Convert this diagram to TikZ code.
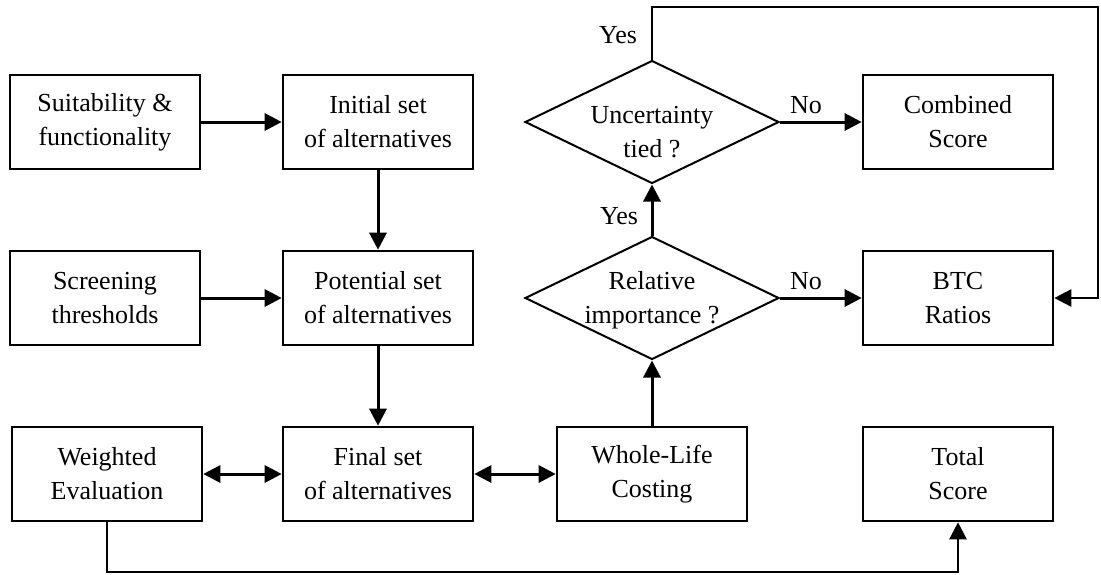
\documentclass[tikz,border=0pt]{standalone}
\usepackage{fontspec}
\setmainfont{Liberation Serif}
\usetikzlibrary{arrows.meta,shapes.geometric}
\begin{document}
\begin{tikzpicture}[x=1pt,y=-1pt,
  txtfont/.style={font=\fontsize{26}{34}\selectfont},
  box/.style={draw,line width=2.6pt,minimum width=190pt,minimum height=94pt,
              inner sep=0pt,align=center,txtfont},
  dia/.style={draw,diamond,line width=2pt,minimum width=254pt,minimum height=123pt,
              inner sep=0pt},
  dtext/.style={align=center,inner sep=0pt,txtfont},
  lbl/.style={inner sep=0pt,txtfont},
  conn/.style={line width=3pt,-{Triangle[length=17pt,width=17pt]}},
  both/.style={line width=3pt,{Triangle[length=17pt,width=17pt]}-{Triangle[length=17pt,width=17pt]}},
  loop/.style={line width=2.6pt},
]
\useasboundingbox (0,0) rectangle (1101,574);

% left column: inputs
\node[box] (suit) at (105,122) {Suitability \&\\functionality};
\node[box] (scr)  at (105,298) {Screening\\thresholds};
\node[box] (wei)  at (107,474) {Weighted\\Evaluation};

% sets of alternatives
\node[box] (ini) at (378,122) {Initial set\\of alternatives};
\node[box] (pot) at (378,298) {Potential set\\of alternatives};
\node[box] (fin) at (378,474) {Final set\\of alternatives};

% costing and decisions
\node[box] (wlc) at (652,474) {Whole-Life\\Costing};
\node[dia] (rel) at (652,298) {};
\node[dtext] (relt) at (652,300) {Relative\\importance ?};
\node[dia] (unc) at (652,122) {};
\node[dtext] (unct) at (652,132) {Uncertainty\\tied ?};

% scores
\node[box] (cmb) at (958,122) {Combined\\Score};
\node[box] (btc) at (958,298) {BTC\\Ratios};
\node[box] (tot) at (958,474) {Total\\Score};

% branch labels
\node[lbl] (yes1) at (618,35)  {Yes};
\node[lbl] (yes2) at (619,216) {Yes};
\node[lbl] (no1)  at (806,105) {No};
\node[lbl] (no2)  at (806,281) {No};

% flow
\draw[conn] (suit) -- (ini);
\draw[conn] (scr) -- (pot);
\draw[conn] (ini) -- (pot);
\draw[conn] (pot) -- (fin);
\draw[both] (wei) -- (fin);
\draw[both] (fin) -- (wlc);
\draw[conn] (wlc) -- (rel.south);
\draw[conn] (rel.north) -- (unc.south);
\draw[conn] (rel.east) -- (btc);
\draw[conn] (unc.east) -- (cmb);

% loop back from the tie test to the BTC ratios
\coordinate (tr) at (1098,7);
\draw[loop,-{Triangle[length=17pt,width=17pt]}] (unc.north) |- (tr) |- (btc.east);

% weighted evaluation feeds the total score
\coordinate (bl) at (107,572);
\draw[line width=2.4pt,-{Triangle[length=17pt,width=17pt]}] (wei.south) -- (bl) -| (tot.south);
\end{tikzpicture}
\end{document}
